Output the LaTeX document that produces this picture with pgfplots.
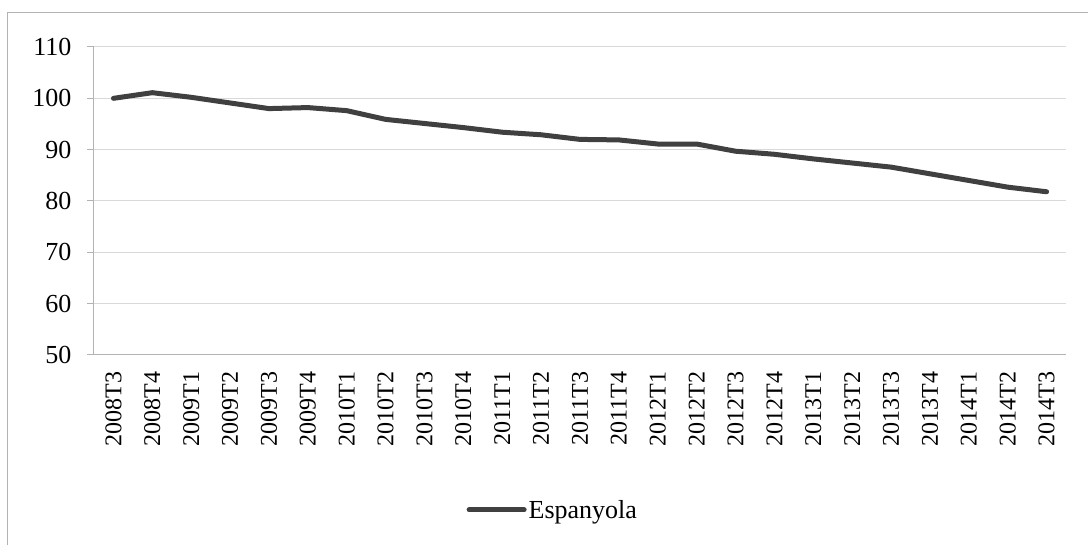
\documentclass[border=0pt]{standalone}
\usepackage{fontspec}
\setmainfont{Liberation Serif}
\usepackage{pgfplots}
\pgfplotsset{compat=1.18}
\definecolor{lineC}{HTML}{404040}
\definecolor{gridC}{HTML}{D9D9D9}
\definecolor{axC}{HTML}{B3B3B3}
\begin{document}
\begin{tikzpicture}[x=1pt,y=1pt]
\useasboundingbox (0,0) rectangle (1088,545);
\begin{scope}
\clip (0,0) rectangle (1088,545);
\draw[axC, line width=1pt] (7.5,-5) -- (7.5,532.5) -- (1095,532.5);
\end{scope}
\begin{axis}[
  at={(94pt,190pt)}, anchor=south west,
  width=972pt, height=308pt, scale only axis,
  xmin=-0.5, xmax=24.5, ymin=50, ymax=110,
  ytick={50,60,...,110},
  xtick={0,...,24},
  xticklabels={2008T3,2008T4,2009T1,2009T2,2009T3,2009T4,2010T1,2010T2,2010T3,2010T4,2011T1,2011T2,2011T3,2011T4,2012T1,2012T2,2012T3,2012T4,2013T1,2013T2,2013T3,2013T4,2014T1,2014T2,2014T3},
  minor xtick={-0.5,0.5,...,24.5},
  axis lines*=left,
  axis line style={axC, line width=1pt},
  ymajorgrids, major grid style={gridC, line width=1pt},
  tick align=outside,
  xtick style={draw=none},
  minor x tick style={axC, line width=1pt},
  minor tick length=7pt,
  ytick style={axC, line width=1pt},
  major tick length=7pt,
  /pgf/number format/assume math mode=true,
  tick label style={font=\fontsize{24}{28}\selectfont, black},
  x tick label style={rotate=90, anchor=east, xshift=-6pt, yshift=0pt},
  y tick label style={font=\fontsize{26}{30}\selectfont, xshift=-12pt},
  legend style={at={(0.472,-0.503)}, anchor=center, draw=none, fill=none,
    font=\fontsize{26}{30}\selectfont, inner sep=0pt},
  legend cell align=left,
  legend image code/.code={\draw[#1, line cap=round] (0pt,0pt) -- (55pt,0pt);},
]
\addplot[lineC, line width=5pt, line join=round, line cap=round] coordinates {
(0,100.0) (1,101.1) (2,100.2) (3,99.1) (4,98.0) (5,98.2) (6,97.6) (7,95.9) (8,95.1) (9,94.3) (10,93.4) (11,92.9) (12,92.0) (13,91.9) (14,91.1) (15,91.1) (16,89.7) (17,89.1) (18,88.2) (19,87.4) (20,86.6) (21,85.3) (22,84.0) (23,82.7) (24,81.8)
};
\addlegendentry{Espanyola}
\end{axis}
\end{tikzpicture}
\end{document}
